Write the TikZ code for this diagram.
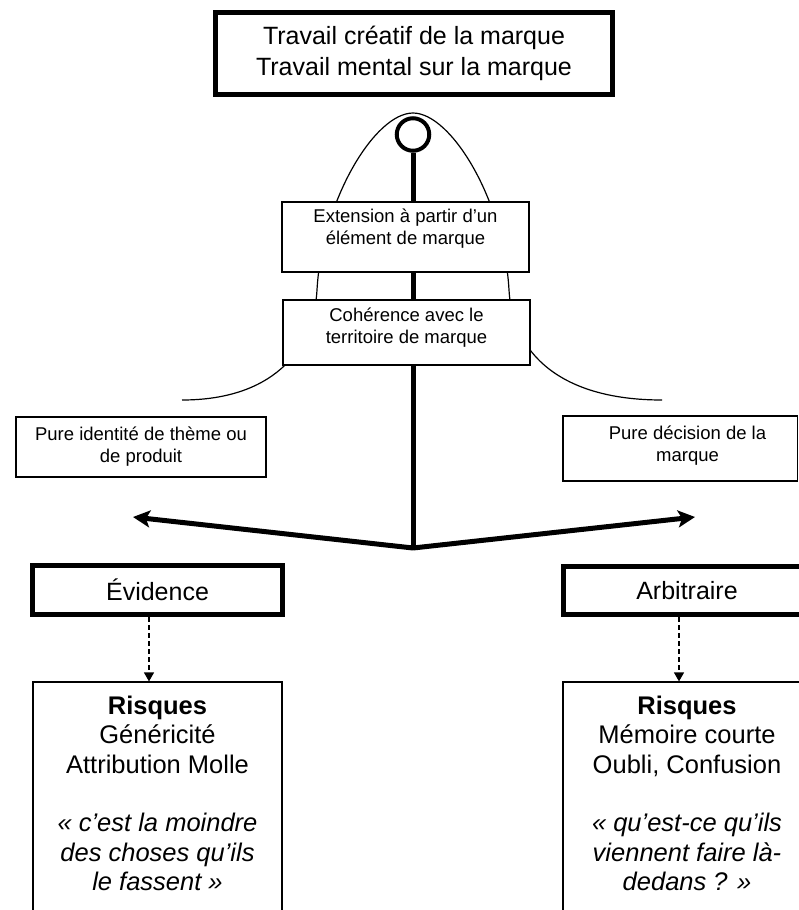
\documentclass[tikz,border=0pt]{standalone}
\usepackage{fontspec}
\setmainfont{Liberation Sans}
\usetikzlibrary{arrows.meta,calc}

\begin{document}
\begin{tikzpicture}[x=1pt,y=-1pt,
  thinbox/.style={draw=black, line width=1.2pt, fill=white, inner sep=0pt},
  thickbox/.style={draw=black, line width=5pt, fill=white, inner sep=0pt},
  boxtext/.style={font=\fontsize{18.5}{22}\selectfont, align=center, inner sep=0pt, anchor=north},
  risktext/.style={font=\fontsize{25.5}{29.3}\selectfont, align=center, inner sep=0pt, anchor=north},
  bigtext/.style={font=\fontsize{25}{31}\selectfont, align=center},
  stem/.style={line width=5pt},
  bigarrow/.style={line width=5pt, -{Stealth[length=17pt, width=17pt, inset=4pt]}},
  dasharrow/.style={line width=1.3pt, dash pattern=on 5pt off 3pt, -{Triangle[length=9pt, width=10pt]}}
]
\useasboundingbox (0,0) rectangle (799,910);
\clip (0,0) rectangle (799,910);

% bell curve
\draw[line width=1.2pt]
  (182,400) .. controls (270,400) and (313.5,353) .. (317,290)
  .. controls (322,200) and (375,113) .. (413,113)
  .. controls (451,113) and (504,200) .. (509,290)
  .. controls (512.5,353) and (560,400) .. (662,400);

% top box
\node[thickbox, bigtext, minimum width=397pt, minimum height=82pt] (top) at (414,53.5)
  {Travail créatif de la marque\\Travail mental sur la marque};

% ring and stem
\node[circle, draw=black, line width=4pt, fill=white, minimum size=32.5pt, inner sep=0pt] (ring) at (413,134.5) {};
\coordinate (j) at (413,548);
\coordinate (lt) at (133,517);
\coordinate (rt) at (695,517);
\draw[stem] (ring.south) -- (j);
\draw[bigarrow] (j) -- (lt);
\draw[bigarrow] (j) -- (rt);

% middle boxes
\node[thinbox, minimum width=247pt, minimum height=70pt] (ext) at (405.5,237) {};
\node[boxtext] (extT) at (405.5,208.5) {Extension à partir d’un\\élément de marque};
\node[thinbox, minimum width=247pt, minimum height=65pt] (coh) at (406.5,332.5) {};
\node[boxtext] (cohT) at (406.5,307.5) {Cohérence avec le\\territoire de marque};

% side boxes
\node[thinbox, minimum width=250pt, minimum height=60pt] (pid) at (141,447) {};
\node[boxtext] (pidT) at (141,426.5) {Pure identité de thème ou\\de produit};
\node[thinbox, minimum width=234.5pt, minimum height=65pt] (pdm) at (680.25,448.5) {};
\node[boxtext] (pdmT) at (687.5,426) {Pure décision de la\\marque};

% category boxes
\node[thickbox, bigtext, minimum width=250pt, minimum height=49pt] (ev) at (157.5,590) {Évidence};
\node[thickbox, bigtext, minimum width=247pt, minimum height=48pt] (arb) at (687,590.5) {Arbitraire};

% risk boxes
\node[thinbox, minimum width=249pt, minimum height=260pt] (r1) at (157.5,812) {};
\node[risktext] (r1T) at (157.5,696) {\textbf{Risques}\\Généricité\\Attribution Molle\\[29.3pt]
  \itshape « c’est la moindre\\\itshape des choses qu’ils\\\itshape le fassent »};
\node[thinbox, minimum width=248pt, minimum height=260pt] (r2) at (687,812) {};
\node[risktext] (r2T) at (687,696) {\textbf{Risques}\\Mémoire courte\\Oubli, Confusion\\[29.3pt]
  \itshape « qu’est-ce qu’ils\\\itshape viennent faire là-\\\itshape dedans ? »};

% dashed connectors
\draw[dasharrow] ([xshift=-8.5pt]ev.south) -- ([xshift=-8.5pt]r1.north);
\draw[dasharrow] ([xshift=-8pt]arb.south) -- ([xshift=-8pt]r2.north);
\end{tikzpicture}
\end{document}
